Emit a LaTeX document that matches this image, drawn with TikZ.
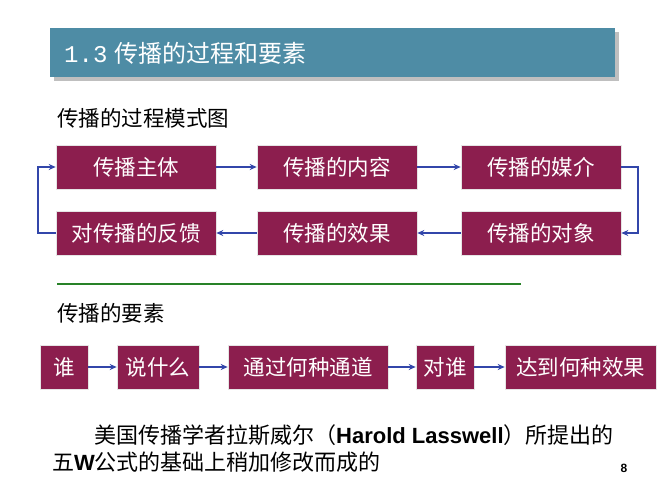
\documentclass[tikz,border=0pt]{standalone}
\usepackage{fontspec}
\setmainfont{Liberation Sans}
\newfontfamily\cjk{Noto Sans CJK SC}
\newfontfamily\serifm{Liberation Mono}
\usetikzlibrary{arrows.meta}
\definecolor{boxc}{RGB}{140,30,78}
\definecolor{arrc}{RGB}{50,70,170}
\definecolor{barc}{RGB}{78,140,165}
\definecolor{grn}{RGB}{40,130,40}
\begin{document}
\begin{tikzpicture}[x=1pt,y=-1pt,
  bx/.style={fill=boxc,text=white,draw=white!80!gray,line width=0.6pt,minimum height=44pt,inner sep=0pt,font=\cjk\fontsize{21.5}{21.5}\selectfont},
  ar/.style={draw=arrc,line width=1.2pt,-{Stealth[length=7pt,width=6pt]}}]
\useasboundingbox (0,0) rectangle (667,500);
\fill[gray!50] (54,32) rectangle (619,81);
\node[fill=barc,minimum width=565pt,minimum height=49pt,anchor=north west,inner sep=0pt] (bar) at (50,28) {};
\node[anchor=west,text=white,font=\fontsize{24}{24}\selectfont,inner sep=0pt] (t) at (64,53) {{\serifm 1.3} {\cjk 传播的过程和要素}};
\node[anchor=west,font=\cjk\fontsize{21.5}{21.5}\selectfont,inner sep=0pt] (h1) at (57,118) {传播的过程模式图};
\node[bx,minimum width=160pt] (a1) at (136,167) {传播主体};
\node[bx,minimum width=160pt] (a2) at (337,167) {传播的内容};
\node[bx,minimum width=160pt] (a3) at (541,167) {传播的媒介};
\node[bx,minimum width=160pt] (b1) at (136,233) {对传播的反馈};
\node[bx,minimum width=160pt] (b2) at (337,233) {传播的效果};
\node[bx,minimum width=160pt] (b3) at (541,233) {传播的对象};
\draw[ar] (a1) -- (a2);
\draw[ar] (a2) -- (a3);
\draw[ar] (b3) -- (b2);
\draw[ar] (b2) -- (b1);
\draw[ar] (a3.east) -| (638,200) |- (b3.east);
\draw[ar] (b1.west) -| (38,200) |- (a1.west);
\draw[grn,line width=2pt] (57,284) -- (521,284);
\node[anchor=west,font=\cjk\fontsize{21.5}{21.5}\selectfont,inner sep=0pt] (h2) at (57,313) {传播的要素};
\node[bx,minimum width=48pt] (c1) at (64,367) {谁};
\node[bx,minimum width=82pt] (c2) at (158,367) {说什么};
\node[bx,minimum width=160pt] (c3) at (308,367) {通过何种通道};
\node[bx,minimum width=58pt] (c4) at (445,367) {对谁};
\node[bx,minimum width=151pt] (c5) at (580.5,367) {达到何种效果};
\draw[ar] (c1) -- (c2);
\draw[ar] (c2) -- (c3);
\draw[ar] (c3) -- (c4);
\draw[ar] (c4) -- (c5);
\node[anchor=west,font=\fontsize{22}{22}\selectfont,inner sep=0pt] (p1) at (94,435) {{\cjk 美国传播学者拉斯威尔（}\textbf{Harold Lasswell}{\cjk ）所提出的}};
\node[anchor=west,font=\fontsize{22}{22}\selectfont,inner sep=0pt] (p2) at (52,462) {{\cjk 五}\textbf{W}{\cjk 公式的基础上稍加修改而成的}};
\node[font=\bfseries\fontsize{12}{12}\selectfont] (pg) at (624,468) {8};
\end{tikzpicture}
\end{document}
